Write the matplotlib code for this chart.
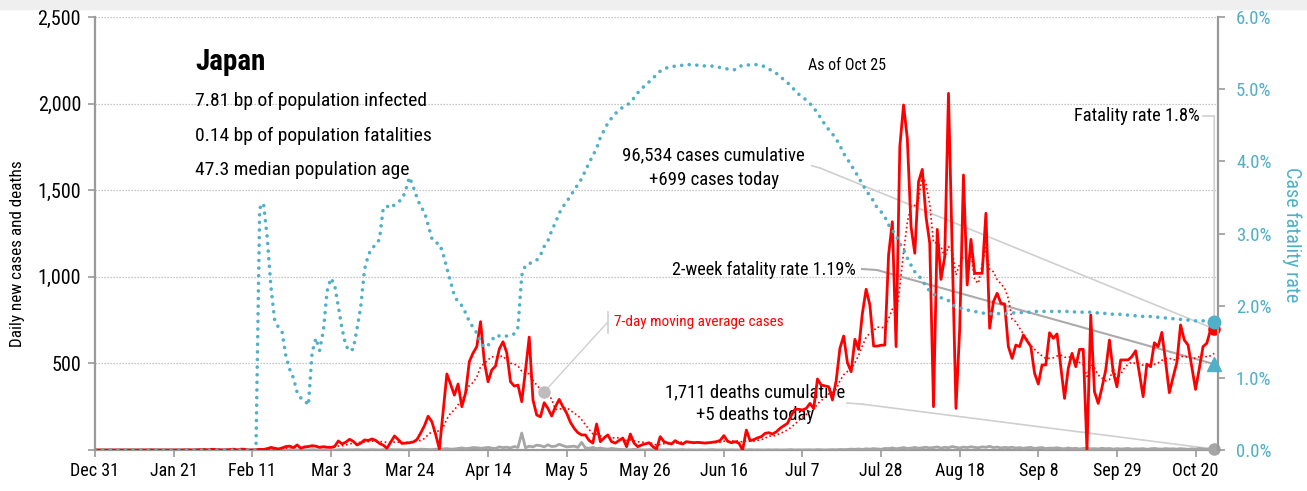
import numpy as np
import pandas as pd
import matplotlib
matplotlib.use('Agg')
import matplotlib.pyplot as plt
import matplotlib.dates as mdates
from matplotlib.patches import Rectangle
from matplotlib.ticker import FuncFormatter
from matplotlib import font_manager

names = sorted({f.name for f in font_manager.fontManager.ttflist})
wanted = ['Liberation Sans Narrow', 'DejaVu Sans Condensed', 'Roboto Condensed', 'Open Sans Condensed']
narrow = [n for n in wanted if n in names]
plt.rcParams['font.family'] = narrow[:1] + ['DejaVu Sans']

country = 'Japan'
stat_lines = ['7.81 bp of population infected',
              '0.14 bp of population fatalities',
              '47.3 median population age']
as_of = 'As of Oct 25'
total_cases = 96534
total_deaths = 1711
two_week_rate = 1.19
start_date = '2019-12-31'

# daily new cases, Dec 31 .. Oct 25
daily_cases = [
    0, 0, 0, 0, 0, 0, 0, 0, 0, 0, 0, 0, 0, 0, 0, 1, 0, 0, 0, 0, 0,
    0, 0, 0, 1, 1, 0, 1, 2, 3, 1, 4, 3, 2, 0, 1, 2, 5, 0, 5, 4, 0,
    0, 1, 4, 3, 8, 15, 10, 6, 12, 20, 22, 14, 29, 10, 18, 20, 25, 22, 15, 19, 16,
    15, 20, 52, 35, 45, 62, 50, 29, 40, 58, 55, 64, 55, 38, 28, 10, 45, 81, 60, 38, 40, 42,
    46, 60, 98, 140, 195, 163, 90, 5, 220, 439, 380, 317, 381, 250, 330, 510, 560, 597, 741, 510, 394,
    462, 485, 583, 625, 562, 394, 369, 375, 279, 460, 652, 289, 202, 192, 273, 240, 196, 250, 292, 250, 213,
    160, 125, 100, 87, 87, 55, 40, 150, 48, 70, 87, 48, 40, 55, 69, 19, 92, 40, 19, 29, 35,
    42, 20, 6, 77, 48, 40, 35, 54, 40, 35, 48, 45, 42, 44, 42, 40, 42, 45, 48, 55, 83,
    50, 42, 48, 40, 0, 115, 54, 60, 70, 77, 96, 100, 92, 105, 125, 140, 154, 200, 235, 235, 231,
    240, 269, 240, 410, 375, 370, 365, 289, 400, 587, 658, 504, 452, 639, 581, 789, 928, 837, 600, 600, 605,
    606, 1126, 1318, 597, 1751, 1992, 1799, 1289, 1136, 1549, 1620, 1347, 1193, 250, 1274, 985, 1116, 2059, 1150, 240, 700,
    1588, 953, 1216, 1020, 1020, 1020, 1367, 703, 856, 905, 847, 843, 597, 529, 606, 597, 664, 630, 597, 443, 381,
    491, 491, 677, 645, 670, 481, 298, 471, 558, 481, 581, 581, 0, 780, 337, 269, 360, 462, 635, 452, 365,
    520, 520, 520, 540, 573, 443, 308, 496, 481, 619, 597, 679, 510, 331, 420, 504, 722, 635, 606, 480, 350,
    470, 597, 616, 693, 699,
]

# daily new deaths
daily_deaths = [
    0, 0, 0, 0, 0, 0, 0, 0, 0, 0, 0, 0, 0, 0, 0, 0, 0, 0, 0, 0, 0, 0,
    0, 0, 0, 0, 0, 0, 0, 0, 0, 0, 0, 0, 0, 0, 0, 0, 0, 0, 0, 0, 0,
    1, 0, 0, 0, 1, 0, 0, 1, 0, 1, 1, 0, 1, 1, 0, 2, 1, 0, 1, 0,
    1, 0, 1, 2, 0, 1, 1, 2, 1, 0, 1, 2, 1, 0, 2, 1, 3, 1, 2, 1, 0, 2,
    3, 2, 5, 4, 3, 2, 5, 3, 6, 8, 5, 6, 9, 12, 8, 10, 14, 13, 10, 12, 15, 11, 9, 18, 14, 16, 12, 20, 15,
    98,
    13, 22, 18, 28, 25, 18, 30, 20, 22, 33, 25, 18, 20, 22, 15, 44, 12, 10, 15, 8, 11, 7, 5, 9, 6, 4,
    3, 2, 1, 4, 2, 1, 0, 2, 1, 3,
    1, 0, 2, 1, 0, 1, 2, 0, 1, 0,
    0, 1, 0, 1, 2, 0, 0, 1, 0, 1,
    0, 0, 1, 0, 2, 0, 1, 0, 0, 1,
    0, 1, 0, 0, 1, 2, 0, 1, 0, 1,
    1, 0, 2, 1, 0, 1, 2, 1, 3, 2,
    3, 5, 4, 6, 3, 7, 5, 8, 6, 4, 9,
    8, 12, 7, 10, 14, 9, 11, 15, 10, 13, 16,
    12, 14, 18, 11, 16, 13, 20, 15, 12, 17, 14,
    19, 15, 13, 18, 16, 21, 14, 17, 12, 15, 13,
    16, 11, 14, 10, 13, 15, 9, 12, 14, 8, 11,
    10, 13, 9, 7, 12, 8, 10, 6, 9, 11, 7,
    8, 6, 10, 7, 9, 5, 8, 6, 7, 9, 5,
    7, 6, 8, 4, 7, 9, 6, 5, 8, 6, 7,
    5, 8, 6, 4, 7, 5, 9, 6, 4, 8, 5,
]

# case fatality rate, %
cfr = [
    0, 0, 0, 0, 0, 0, 0, 0, 0, 0, 0, 0, 0, 0, 0, 0, 0, 0, 0, 0, 0, 0,
    0, 0, 0, 0, 0, 0, 0, 0, 0, 0, 0, 0, 0, 0, 0, 0, 0, 0, 0, 0, 0, 0,
    3.35, 3.42, 2.95, 2.26, 1.80, 1.70, 1.63, 1.30, 1.12, 1.00, 0.80, 0.72, 0.69, 0.62, 1.35, 1.55, 1.38, 1.65, 2.20, 2.38, 2.29,
    1.99, 1.68, 1.45, 1.37, 1.40, 1.68, 1.99, 2.50, 2.70, 2.80, 2.84, 2.92, 3.35, 3.38, 3.35, 3.40, 3.44, 3.47, 3.60, 3.78, 3.65,
    3.50, 3.37, 3.30, 3.12, 2.93, 2.87, 2.86, 2.72, 2.52, 2.33, 2.14, 2.05, 2.00, 1.90, 1.78, 1.70, 1.62, 1.50, 1.42, 1.45, 1.52,
    1.59, 1.58, 1.57, 1.58, 1.59, 1.61, 1.70, 2.42, 2.56, 2.58, 2.61, 2.63, 2.70, 2.82, 2.90, 3.04, 3.15, 3.28, 3.37, 3.44, 3.52,
    3.60, 3.68, 3.76, 3.87, 3.98, 4.08, 4.18, 4.33, 4.43, 4.53, 4.60, 4.66, 4.71, 4.75, 4.78, 4.81, 4.88, 4.95, 5.00, 5.06, 5.10,
    5.15, 5.20, 5.25, 5.28, 5.30, 5.31, 5.32, 5.33, 5.33, 5.34, 5.34, 5.34, 5.33, 5.33, 5.32, 5.32, 5.32, 5.31, 5.30, 5.29, 5.28,
    5.27, 5.27, 5.31, 5.33, 5.33, 5.34, 5.34, 5.34, 5.33, 5.31, 5.28, 5.25, 5.22, 5.18, 5.13, 5.09, 5.04, 4.98, 4.93, 4.89, 4.85,
    4.80, 4.74, 4.67, 4.59, 4.51, 4.44, 4.38, 4.31, 4.22, 4.11, 4.03, 3.95, 3.86, 3.78, 3.68, 3.60, 3.52, 3.45, 3.35, 3.30, 3.23,
    3.12, 3.05, 2.97, 2.86, 2.78, 2.66, 2.56, 2.47, 2.42, 2.35, 2.27, 2.20, 2.16, 2.13, 2.11, 2.09, 2.07, 2.01, 1.99, 1.97, 1.95,
    1.94, 1.93, 1.92, 1.91, 1.90, 1.89, 1.89, 1.89, 1.89, 1.89, 1.89, 1.89, 1.90, 1.90, 1.90, 1.91, 1.91, 1.91, 1.92, 1.92, 1.92,
    1.92, 1.92, 1.92, 1.92, 1.92, 1.92, 1.92, 1.92, 1.91, 1.91, 1.91, 1.91, 1.91, 1.90, 1.90, 1.90, 1.89, 1.89, 1.88, 1.88, 1.88,
    1.87, 1.87, 1.86, 1.86, 1.86, 1.85, 1.85, 1.85, 1.84, 1.84, 1.83, 1.83, 1.82, 1.82, 1.81, 1.81, 1.80, 1.80, 1.80, 1.79,
    1.79, 1.79, 1.78, 1.78, 1.78,
]

RED = '#ff0000'
BLUE = '#4fb0c8'
GREY = '#a6a6a6'
AXC = '#9a9a9a'
LC = '#cfcfcf'

dates = pd.date_range(start_date, periods=len(daily_cases), freq='D')
x = mdates.date2num(dates)
ma7 = pd.Series(daily_cases).rolling(7, min_periods=1).mean().to_numpy()

fig = plt.figure(figsize=(13.07, 4.91), dpi=100)
fig.patches.append(Rectangle((0, 1 - 9 / 491), 1, 9 / 491, transform=fig.transFigure,
                             color='#efefef', zorder=0))
ax = fig.add_axes([95 / 1307, 41 / 491, 1123 / 1307, 433 / 491])
ax2 = ax.twinx()

ax.plot(x, daily_deaths, color=GREY, lw=2, zorder=3)
ax.plot(x, daily_cases, color=RED, lw=2, zorder=4)
ax.plot(x, ma7, color=RED, lw=1.2, ls=(0, (1, 1.6)), zorder=4)
ax2.plot(x, cfr, color=BLUE, lw=2.6, ls=(0, (0.01, 2.1)), dash_capstyle='round', zorder=3)

ax.set_xlim(x[0], x[0] + 300)
ax.set_ylim(0, 2500)
ax2.set_ylim(0, 6)

ax.set_yticks([0, 500, 1000, 1500, 2000, 2500])
ax.yaxis.set_major_formatter(FuncFormatter(lambda v, p: '' if v == 0 else f'{int(v):,}'))
ax2.set_yticks(np.arange(0, 6.5, 1))
ax2.yaxis.set_major_formatter(FuncFormatter(lambda v, p: f'{v:.1f}%'))
ax.set_xticks(x[::21])
ax.xaxis.set_major_formatter(FuncFormatter(
    lambda v, p: f"{mdates.num2date(v):%b} {mdates.num2date(v).day}"))

ax.yaxis.grid(True, color='#b5b5b5', lw=0.9, ls=(0, (1, 1.4)))
ax.set_axisbelow(True)
for a in (ax, ax2):
    a.spines['top'].set_visible(False)
    a.set_facecolor('none')
ax.spines['right'].set_visible(False)
ax2.spines['left'].set_visible(False)
ax2.spines['bottom'].set_visible(False)
for s in ('left', 'bottom'):
    ax.spines[s].set_color(AXC)
    ax.spines[s].set_linewidth(1.6)
ax2.spines['right'].set_color(AXC)
ax2.spines['right'].set_linewidth(1.6)

ax.tick_params(axis='y', length=5, width=1.2, color=AXC, labelsize=14.5, pad=5)
ax.tick_params(axis='x', length=5, width=1.2, color=AXC, labelsize=13, pad=4)
ax2.tick_params(axis='y', length=5, width=1.2, color=AXC, labelsize=13.5, pad=8, labelcolor=BLUE)

fig.text(18 / 1307, 1 - 254 / 491, 'Daily new cases and deaths', rotation=90,
         ha='center', va='center', fontsize=12.3)
fig.text(1292 / 1307, 1 - 235 / 491, 'Case fatality rate', rotation=270,
         ha='center', va='center', fontsize=14.5, color=BLUE)

# title block
ax.text(0.089, 0.896, country, transform=ax.transAxes, fontsize=21, va='center',
        fontweight='bold')
for i, line in enumerate(stat_lines):
    ax.text(0.089, 0.806 - i * 0.0797, line, transform=ax.transAxes, fontsize=14, va='center')
ax.text(0.635, 0.887, as_of, transform=ax.transAxes, fontsize=11.5, va='center')


def pointer(start, elbow, target, target_ax, color=LC, lw=1.2):
    ax.plot([start[0], elbow[0]], [start[1], elbow[1]], transform=ax.transAxes,
            color=color, lw=lw, clip_on=False, zorder=2)
    ax.annotate('', xy=target, xycoords=target_ax.transData, xytext=elbow,
                textcoords='axes fraction',
                arrowprops=dict(arrowstyle='-', color=color, lw=lw,
                                shrinkA=0, shrinkB=0), zorder=2)


# fatality rate
ax.text(0.984, 0.771, f'Fatality rate {cfr[-1]:.1f}%', transform=ax.transAxes,
        fontsize=13.3, ha='right', va='center')
ax.plot([0.9866, 0.9967], [0.771, 0.771], transform=ax.transAxes, color=LC, lw=1.2, clip_on=False)
ax.annotate('', xy=(x[-1], cfr[-1]), xycoords=ax2.transData,
            xytext=(x[-1], 0.771), textcoords=('data', 'axes fraction'),
            arrowprops=dict(arrowstyle='-', color=LC, lw=1.2, shrinkA=0, shrinkB=0))

# cumulative cases
ax.text(0.551, 0.681, f'{total_cases:,} cases cumulative', transform=ax.transAxes,
        fontsize=13.5, ha='center', va='center')
ax.text(0.551, 0.6236, f'+{daily_cases[-1]:,} cases today', transform=ax.transAxes,
        fontsize=13.5, ha='center', va='center')
pointer((0.6382, 0.6566), (0.6456, 0.6513), (x[-1], daily_cases[-1]), ax)

# 2-week rate
ax.text(0.677, 0.4157, f'2-week fatality rate {two_week_rate}%', transform=ax.transAxes,
        fontsize=13.1, ha='right', va='center')
pointer((0.683, 0.418), (0.6963, 0.4157), (x[-1], two_week_rate), ax2, color='#ababab', lw=1.5)

# deaths
ax.text(0.5877, 0.134, f'{total_deaths:,} deaths cumulative', transform=ax.transAxes,
        fontsize=13.5, ha='center', va='center')
ax.text(0.5877, 0.0808, f'+{daily_deaths[-1]} deaths today', transform=ax.transAxes,
        fontsize=13.5, ha='center', va='center')
pointer((0.6696, 0.1085), (0.683, 0.106), (x[-1], daily_deaths[-1]), ax)

# moving average label
ax.text(0.4622, 0.2956, '7-day moving average cases', transform=ax.transAxes,
        fontsize=11, color=RED, va='center')
ax.plot([0.4566, 0.4566], [0.2695, 0.3194], transform=ax.transAxes, color=LC, lw=1.2)
ma_i = 120
ax.annotate('', xy=(x[ma_i], ma7[ma_i]), xytext=(0.4566, 0.2956),
            textcoords='axes fraction',
            arrowprops=dict(arrowstyle='-', color=LC, lw=1, shrinkA=0, shrinkB=0))
ax.plot(x[ma_i], ma7[ma_i], 'o', color='#bdbdbd', ms=8, zorder=6)

# end markers
ax.plot(x[-1], daily_cases[-1], 'o', color=RED, ms=8, zorder=7, clip_on=False)
ax.plot(x[-1], daily_deaths[-1], 'o', color=GREY, ms=8, zorder=7, clip_on=False)
ax2.plot(x[-1], cfr[-1], 'o', color=BLUE, ms=9, zorder=7, clip_on=False)
ax2.plot(x[-1], two_week_rate, '^', color=BLUE, ms=10, zorder=7, clip_on=False)

fig.savefig('out.png', dpi=100)
